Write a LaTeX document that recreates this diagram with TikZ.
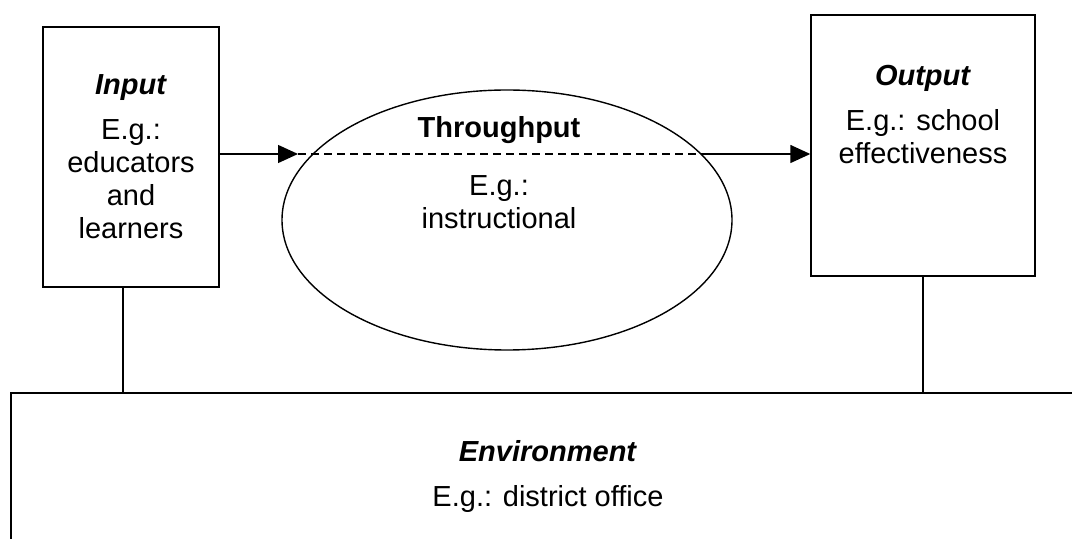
\documentclass[tikz,border=0pt]{standalone}
\usepackage{fontspec}
\setmainfont{Liberation Sans}
\usetikzlibrary{arrows.meta,shapes.geometric,positioning}

\begin{document}
\begin{tikzpicture}[x=0.5pt,y=-0.5pt,line width=0.7pt,
  font=\fontsize{14.5}{16.5}\selectfont,
  sysbox/.style={draw,rectangle,inner sep=0pt,align=center},
  flow/.style={-{Triangle[length=10pt,width=9pt]}},
  dashflow/.style={dash pattern=on 4pt off 2.5pt}]
\useasboundingbox (0,0) rectangle (1072,539);
\clip (0,0) rectangle (1072,539);
% system parts
\node[sysbox,minimum width=88pt,minimum height=130pt] (input) at (131,157)
   {\textbf{\textit{Input}}\\[6pt] E.g.:\\ educators\\ and\\ learners};
\node[sysbox,minimum width=112pt,minimum height=130.5pt] (output) at (923,145.5) {};
\node[align=center] (outtxt) at ([yshift=-50pt]output.north)
   {\textbf{\textit{Output}}\\[6pt] E.g.: school\\ effectiveness};
\node[draw,ellipse,minimum width=225pt,minimum height=130pt,inner sep=0pt] (thru) at (507,220) {};
\node[font=\fontsize{14.5}{16.5}\selectfont\bfseries] (thrutxt) at (499,130) {Throughput};
\node[align=center] (thruex) at (499,202) {E.g.:\\ instructional};
\node[sysbox,minimum width=544.5pt,minimum height=93.5pt] (env) at (555.5,486.5) {};
\node[align=center] (envtxt) at (548,477)
   {\textbf{\textit{Environment}}\\[6pt] E.g.: district office};
% flow through the system
\coordinate (tin) at (298,154);
\coordinate (tout) at (705,154);
\draw[flow] (input.east |- tin) -- (tin);
\draw[dashflow] (tin) -- (tout);
\draw[flow] (tout) -- (output.west |- tout);
% links to the environment
\draw ([xshift=-4pt]input.south) -- ([xshift=-4pt]input.south |- env.north);
\draw (output.south) -- (output.south |- env.north);
\end{tikzpicture}
\end{document}
